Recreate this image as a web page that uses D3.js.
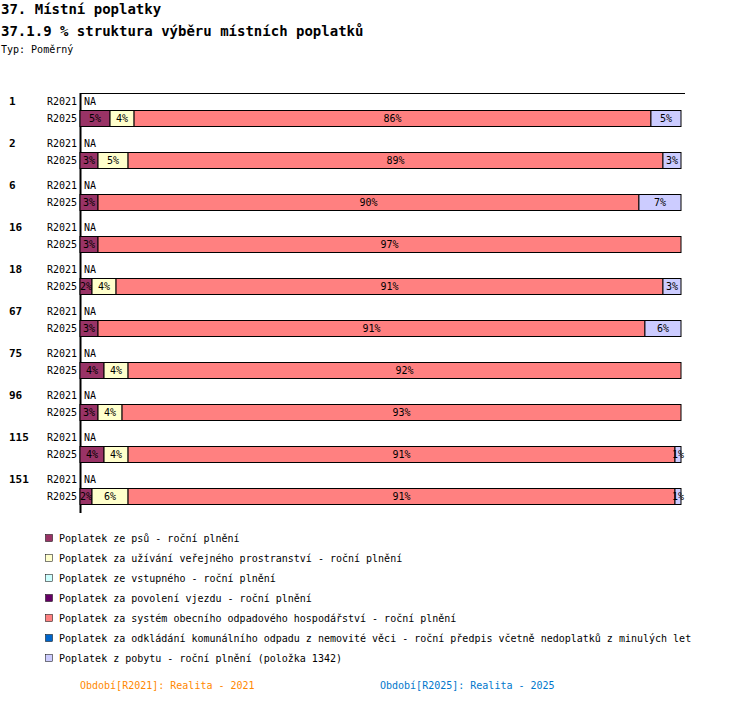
<!DOCTYPE html>
<html><head><meta charset="utf-8">
<script src="https://cdn.jsdelivr.net/npm/d3@7"></script>
<style>body{margin:0;background:#fff}text{font-family:"DejaVu Sans Mono",monospace}</style>
</head><body>
<script>
// skupiny (obce) a podily jednotlivych poplatku v R2025, v %
var groups = ['1', '2', '6', '16', '18', '67', '75', '96', '115', '151']
var series = [
  'Poplatek ze psů - roční plnění',
  'Poplatek za užívání veřejného prostranství - roční plnění',
  'Poplatek ze vstupného - roční plnění',
  'Poplatek za povolení vjezdu - roční plnění',
  'Poplatek za systém obecního odpadového hospodářství - roční plnění',
  'Poplatek za odkládání komunálního odpadu z nemovité věci - roční předpis včetně nedoplatků z minulých let',
  'Poplatek z pobytu - roční plnění (položka 1342)'
]
var colors = ['#993366', '#ffffcc', '#ccffff', '#660066', '#ff8080', '#0066cc', '#ccccff']
var psy      = [5, 3, 3, 3, 2, 3, 4, 3, 4, 2]
var uzivani  = [4, 5, 0, 0, 4, 0, 4, 4, 4, 6]
var vstupne  = [0, 0, 0, 0, 0, 0, 0, 0, 0, 0]
var vjezd    = [0, 0, 0, 0, 0, 0, 0, 0, 0, 0]
var odpad    = [86, 89, 90, 97, 91, 91, 92, 93, 91, 91]
var odkladani= [0, 0, 0, 0, 0, 0, 0, 0, 0, 0]
var pobyt    = [5, 3, 7, 0, 3, 6, 0, 0, 1, 1]
var values = [psy, uzivani, vstupne, vjezd, odpad, odkladani, pobyt]

var svg = d3.select('body').append('svg').attr('width', 750).attr('height', 722)

svg.append('text').attr('x', 1).attr('y', 14).attr('font-size', 14).attr('font-weight', 'bold').text('37. Místní poplatky')
svg.append('text').attr('x', 1).attr('y', 36).attr('font-size', 14).attr('font-weight', 'bold').text('37.1.9 % struktura výběru místních poplatků')
svg.append('text').attr('x', 1).attr('y', 53).attr('font-size', 10).text('Typ: Poměrný')

var x = d3.scaleLinear().domain([0, 100]).range([80, 681])
var y = d3.scaleBand().domain(groups).range([93, 513])

// osy
svg.append('line').attr('x1', 80).attr('x2', 685).attr('y1', 93.5).attr('y2', 93.5).attr('stroke', '#000')
svg.append('line').attr('x1', 80.5).attr('x2', 80.5).attr('y1', 93).attr('y2', 513).attr('stroke', '#000').attr('stroke-width', 2)

groups.forEach(function (g, i) {
  var y0 = y(g)
  svg.append('text').attr('x', 9).attr('y', y0 + 12).attr('font-size', 11).attr('font-weight', 'bold').text(g)
  svg.append('text').attr('x', 47).attr('y', y0 + 12).attr('font-size', 10).text('R2021')
  svg.append('text').attr('x', 84).attr('y', y0 + 12).attr('font-size', 10).text('NA')
  svg.append('text').attr('x', 47).attr('y', y0 + 29).attr('font-size', 10).text('R2025')
  var acc = 0
  values.forEach(function (arr, s) {
    var v = arr[i]
    if (!v) return
    var x0 = x(acc), x1 = x(acc + v)
    acc += v
    svg.append('rect').attr('x', x0).attr('y', y0 + 17.5).attr('width', x1 - x0).attr('height', 16)
      .attr('fill', colors[s]).attr('stroke', '#000')
    svg.append('text').attr('x', (x0 + x1) / 2).attr('y', y0 + 29).attr('font-size', 10)
      .attr('text-anchor', 'middle').attr('fill', '#000').text(v + '%')
  })
})

// legenda
series.forEach(function (s, i) {
  var ly = 538 + i * 20
  svg.append('rect').attr('x', 45.5).attr('y', ly - 3.5).attr('width', 7).attr('height', 7)
    .attr('fill', colors[i]).attr('stroke', '#000').attr('stroke-width', 0.5)
  svg.append('text').attr('x', 59).attr('y', ly + 4).attr('font-size', 10).text(s)
})

svg.append('text').attr('x', 80).attr('y', 689).attr('font-size', 10).attr('fill', '#ff8800').text('Období[R2021]: Realita - 2021')
svg.append('text').attr('x', 380).attr('y', 689).attr('font-size', 10).attr('fill', '#0077cc').text('Období[R2025]: Realita - 2025')
</script>
</body></html>
